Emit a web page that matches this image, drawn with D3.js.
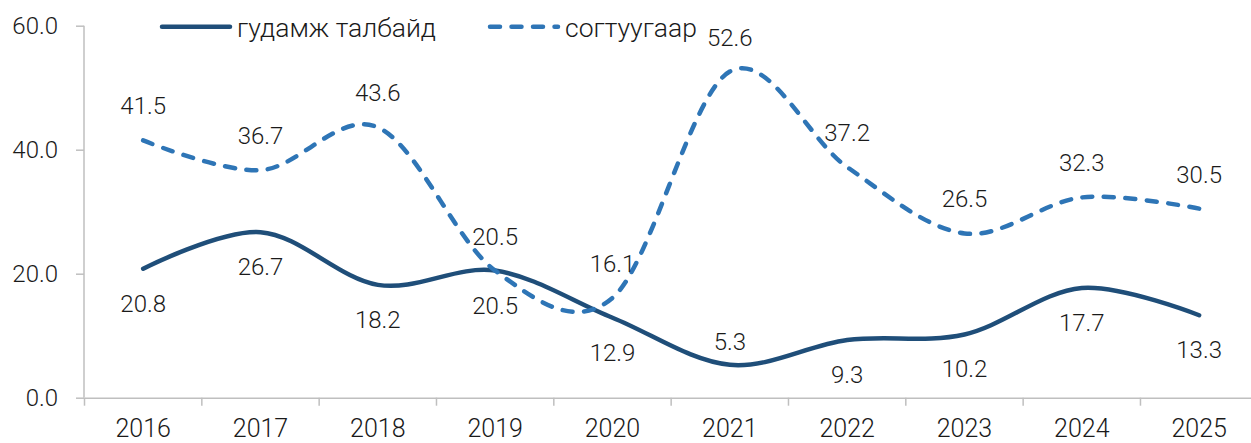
<!DOCTYPE html>
<html>
<head>
<meta charset="utf-8">
<script src="https://cdn.jsdelivr.net/npm/d3@7"></script>
<style>
  body { margin: 0; background: #fff; }
  text { font-family: Roboto, "Noto Sans", sans-serif; fill: #1a1a1a; }
</style>
</head>
<body>
<script>
    var years = ["2016", "2017", "2018", "2019", "2020", "2021", "2022", "2023", "2024", "2025"];
    var seriesNames = ["гудамж талбайд", "согтуугаар"];
    var street = [20.8, 26.7, 18.2, 20.5, 12.9, 5.3, 9.3, 10.2, 17.7, 13.3];
    var drunk = [41.5, 36.7, 43.6, 20.5, 16.1, 52.6, 37.2, 26.5, 32.3, 30.5];
    var yTicks = [0, 20, 40, 60];
    // label side for the solid series: 1 = below, -1 = above
    var streetSide = [1, 1, 1, 1, 1, -1, 1, 1, 1, 1];

    var width = 1251, height = 443;
    var svg = d3.select("body").append("svg").attr("width", width).attr("height", height);

    var x = d3.scaleBand().domain(years).range([84.5, 1257.8]);
    var y = d3.scaleLinear().domain([0, 60]).range([397.7, 25.7]);
    var cx = function(d, i){ return x(years[i]) + x.bandwidth() / 2; };

    var axisColor = "#bfbfbf";

    // y axis
    var yAxis = svg.append("g")
        .attr("transform", "translate(84,0)")
        .call(d3.axisLeft(y).tickValues(yTicks).tickFormat(d3.format(".1f")).tickSize(8).tickPadding(18));
    yAxis.select(".domain").attr("stroke", axisColor).attr("stroke-width", 1.5).attr("d", "M0," + y(60) + "V" + y(0));
    yAxis.selectAll(".tick line").attr("stroke", axisColor).attr("stroke-width", 1.5);
    yAxis.selectAll(".tick text").attr("font-size", 24).attr("font-weight", 300).attr("fill", "#1a1a1a")
        .attr("font-family", "Roboto");

    // x axis
    var xAxis = svg.append("g")
        .attr("transform", "translate(0," + y(0) + ")")
        .call(d3.axisBottom(x).tickSize(0).tickPadding(22));
    xAxis.select(".domain").attr("stroke", axisColor).attr("stroke-width", 1.5);
    xAxis.selectAll(".tick text").attr("font-size", 25).attr("font-weight", 300).attr("fill", "#1a1a1a")
        .attr("font-family", "Roboto");
    xAxis.selectAll("line.band")
        .data(years)
      .enter().append("line")
        .attr("class", "band")
        .attr("x1", function(d){ return x(d); })
        .attr("x2", function(d){ return x(d); })
        .attr("y1", 0).attr("y2", 8)
        .attr("stroke", axisColor).attr("stroke-width", 1.5);

    // lines
    var line = d3.line()
        .x(cx)
        .y(function(d){ return y(d); })
        .curve(d3.curveCardinal.tension(0));

    svg.append("path")
        .datum(street)
        .attr("d", line)
        .attr("fill", "none")
        .attr("stroke", "#1f4e79")
        .attr("stroke-width", 4.5)
        .attr("stroke-linecap", "round");

    svg.append("path")
        .datum(drunk)
        .attr("d", line)
        .attr("fill", "none")
        .attr("stroke", "#2e75b6")
        .attr("stroke-width", 4.5)
        .attr("stroke-dasharray", "10,11.5")
        .attr("stroke-linecap", "round");

    // data labels
    svg.selectAll("text.lblStreet")
        .data(street)
      .enter().append("text")
        .attr("class", "lblStreet")
        .attr("x", cx)
        .attr("y", function(d, i){ return y(d) + (streetSide[i] > 0 ? 35 : -23); })
        .attr("text-anchor", "middle")
        .attr("dominant-baseline", "central")
        .attr("font-size", 24)
        .attr("font-weight", 300)
        .text(function(d){ return d.toFixed(1); });

    svg.selectAll("text.lblDrunk")
        .data(drunk)
      .enter().append("text")
        .attr("class", "lblDrunk")
        .attr("x", cx)
        .attr("y", function(d){ return y(d) - 34; })
        .attr("text-anchor", "middle")
        .attr("dominant-baseline", "central")
        .attr("font-size", 24)
        .attr("font-weight", 300)
        .text(function(d){ return d.toFixed(1); });

    // legend
    var legend = svg.append("g");
    var legendItems = [
      {name: seriesNames[0], x: 162, color: "#1f4e79", dash: null},
      {name: seriesNames[1], x: 490, color: "#2e75b6", dash: "10,11.5"}
    ];
    legendItems.forEach(function(it){
      legend.append("line")
          .attr("x1", it.x).attr("x2", it.x + 68)
          .attr("y1", 26.7).attr("y2", 26.7)
          .attr("stroke", it.color)
          .attr("stroke-width", 4.5)
          .attr("stroke-linecap", "round")
          .attr("stroke-dasharray", it.dash);
      legend.append("text")
          .attr("x", it.x + 75)
          .attr("y", 27)
          .attr("dominant-baseline", "central")
          .attr("font-size", 26.5)
          .attr("font-weight", 300)
          .text(it.name);
    });
</script>
</body>
</html>
